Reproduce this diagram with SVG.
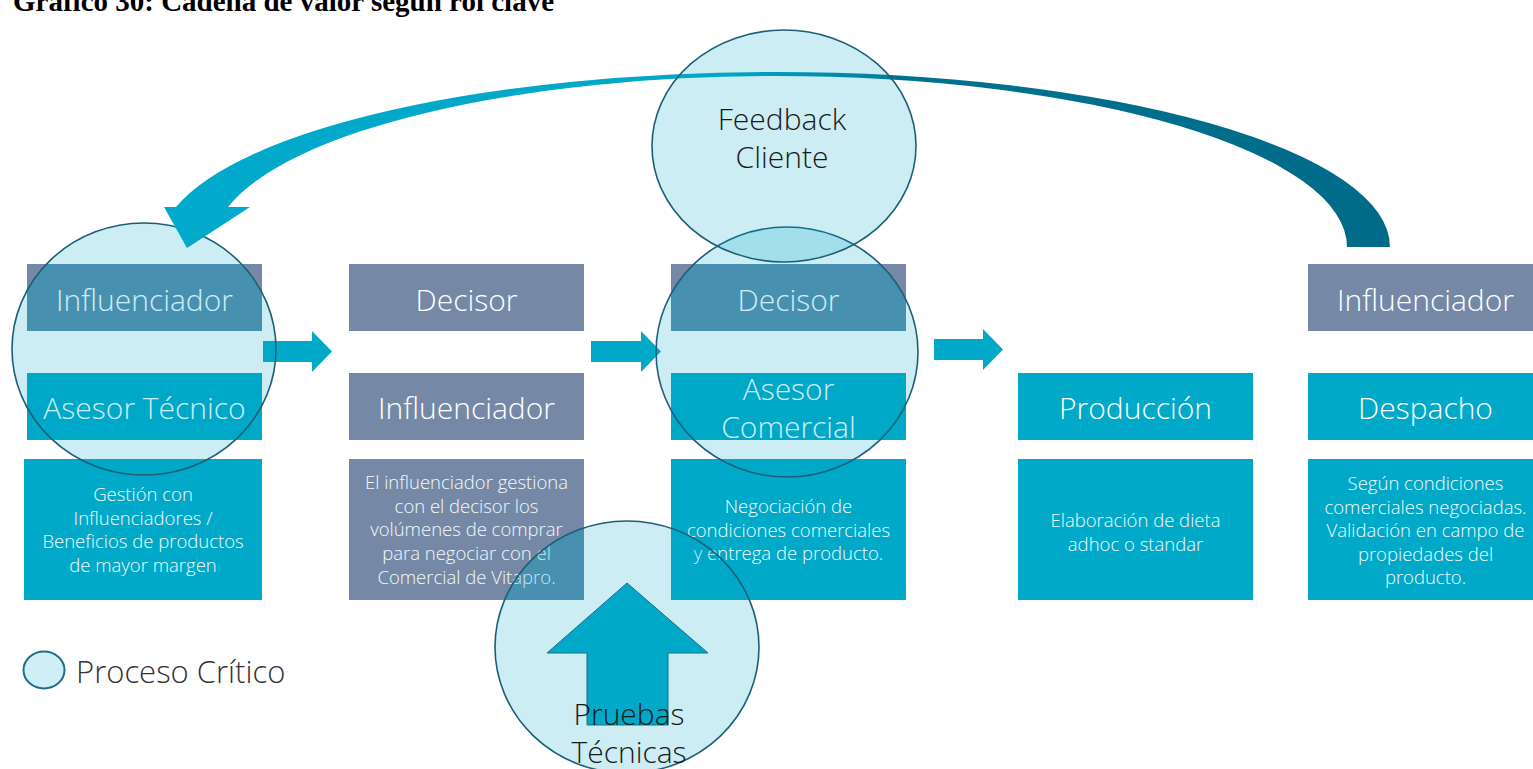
<svg xmlns="http://www.w3.org/2000/svg" width="1533" height="769" viewBox="0 0 1533 769">
  <defs>
    <style>
      .role { fill: #7589A6; }
      .role-in { fill: #5A8BAB; }
      .step { fill: #00A9C8; }
      .ttl { font-family: "Open Sans", "Liberation Sans", sans-serif; font-weight: 300; font-size: 30px; fill: #FFFFFF; text-anchor: middle; }
      .dsc { font-family: "Open Sans", "Liberation Sans", sans-serif; font-weight: 300; font-size: 18.5px; fill: #F2FAFC; text-anchor: middle; }
      .crit { fill: #00A6C6; fill-opacity: 0.2; stroke: #1D5F78; stroke-width: 1.6; }
      .ctxt { font-family: "Open Sans", "Liberation Sans", sans-serif; font-weight: 300; font-size: 30px; fill: #1A1A1A; text-anchor: middle; }
      .flow { fill: #00A9C8; }
    </style>
    <!-- shapes of the critical-process rings, reused to tint the role boxes they cover -->
    <clipPath id="ringTecnico"><ellipse cx="144" cy="349" rx="132" ry="126"/></clipPath>
    <clipPath id="ringComercial"><ellipse cx="787" cy="352" rx="131" ry="125"/></clipPath>
    <clipPath id="ringPruebas"><ellipse cx="627" cy="647" rx="132" ry="126"/></clipPath>
    <linearGradient id="loopGrad" gradientUnits="userSpaceOnUse" x1="160" y1="0" x2="1390" y2="0">
      <stop offset="0" stop-color="#00AACA"/>
      <stop offset="0.46" stop-color="#00A8C8"/>
      <stop offset="0.6" stop-color="#00728F"/>
      <stop offset="1" stop-color="#006B88"/>
    </linearGradient>
  </defs>

  <rect width="1533" height="769" fill="#FFFFFF"/>

  <!-- caption, partly cut by the top edge -->
  <text x="13" y="11" font-family="Liberation Serif, serif" font-weight="bold" font-size="29" fill="#000000">Gráfico 30: Cadena de valor según rol clave</text>

  <!-- column 1 -->
  <g id="col-asesor-tecnico">
    <rect class="role" x="27" y="264" width="235" height="67"/>
    <rect class="role-in" x="27" y="264" width="235" height="67" clip-path="url(#ringTecnico)"/>
    <text class="ttl" x="144.5" y="311">Influenciador</text>
    <rect class="step" x="27" y="373" width="235" height="67"/>
    <text class="ttl" x="144.5" y="419">Asesor Técnico</text>
    <rect class="step" x="24" y="459" width="238" height="141"/>
    <text class="dsc" x="143" y="501">Gestión con</text>
    <text class="dsc" x="143" y="525">Influenciadores /</text>
    <text class="dsc" x="143" y="548">Beneficios de productos</text>
    <text class="dsc" x="143" y="572">de mayor margen</text>
  </g>

  <!-- column 2 -->
  <g id="col-influenciador">
    <rect class="role" x="349" y="264" width="235" height="67"/>
    <text class="ttl" x="466.5" y="311">Decisor</text>
    <rect class="role" x="349" y="373" width="235" height="67"/>
    <text class="ttl" x="466.5" y="419">Influenciador</text>
    <rect class="role" x="349" y="459" width="235" height="141"/>
    <rect class="role-in" x="349" y="459" width="235" height="141" clip-path="url(#ringPruebas)"/>
    <text class="dsc" x="466.5" y="489">El influenciador gestiona</text>
    <text class="dsc" x="466.5" y="513">con el decisor los</text>
    <text class="dsc" x="466.5" y="536">volúmenes de comprar</text>
    <text class="dsc" x="466.5" y="560">para negociar con el</text>
    <text class="dsc" x="466.5" y="584">Comercial de Vitapro.</text>
  </g>

  <!-- column 3 -->
  <g id="col-asesor-comercial">
    <rect class="role" x="671" y="264" width="235" height="67"/>
    <rect class="role-in" x="671" y="264" width="235" height="67" clip-path="url(#ringComercial)"/>
    <text class="ttl" x="788.5" y="311">Decisor</text>
    <rect class="step" x="671" y="373" width="235" height="67"/>
    <text class="ttl" x="788.5" y="400">Asesor</text>
    <text class="ttl" x="788.5" y="438">Comercial</text>
    <rect class="step" x="671" y="459" width="235" height="141"/>
    <text class="dsc" x="788.5" y="513">Negociación de</text>
    <text class="dsc" x="788.5" y="537">condiciones comerciales</text>
    <text class="dsc" x="788.5" y="560">y entrega de producto.</text>
  </g>

  <!-- column 4 -->
  <g id="col-produccion">
    <rect class="step" x="1018" y="373" width="235" height="67"/>
    <text class="ttl" x="1135.5" y="419">Producción</text>
    <rect class="step" x="1018" y="459" width="235" height="141"/>
    <text class="dsc" x="1135.5" y="527">Elaboración de dieta</text>
    <text class="dsc" x="1135.5" y="551">adhoc o standar</text>
  </g>

  <!-- column 5 -->
  <g id="col-despacho">
    <rect class="role" x="1308" y="264" width="235" height="67"/>
    <text class="ttl" x="1425.5" y="311">Influenciador</text>
    <rect class="step" x="1308" y="373" width="235" height="67"/>
    <text class="ttl" x="1425.5" y="419">Despacho</text>
    <rect class="step" x="1308" y="459" width="235" height="141"/>
    <text class="dsc" x="1425.5" y="490">Según condiciones</text>
    <text class="dsc" x="1425.5" y="514">comerciales negociadas.</text>
    <text class="dsc" x="1425.5" y="537">Validación en campo de</text>
    <text class="dsc" x="1425.5" y="561">propiedades del</text>
    <text class="dsc" x="1425.5" y="584">producto.</text>
  </g>

  <!-- flow arrows between columns -->
  <g id="connectors">
    <polygon class="flow" points="263,341 312,341 312,331 332,351.5 312,372 312,362 263,362"/>
    <polygon class="flow" points="591,341 641,341 641,331 661,351.5 641,372 641,362 591,362"/>
    <polygon class="flow" points="934,339 983,339 983,329 1003,349.5 983,370 983,360 934,360"/>
  </g>

  <!-- critical process markers -->
  <g id="critico-asesor-tecnico">
    <ellipse class="crit" cx="144" cy="349" rx="132" ry="126"/>
  </g>
  <g id="critico-asesor-comercial">
    <ellipse class="crit" cx="787" cy="352" rx="131" ry="125"/>
  </g>
  <g id="pruebas-tecnicas">
    <ellipse class="crit" cx="627" cy="647" rx="132" ry="126"/>
    <polygon points="627,583 708,653 668,653 668,725 587,725 587,653 547,653" fill="#00A9C8" stroke="#1D6E88" stroke-width="1"/>
    <text class="ctxt" x="629" y="725">Pruebas</text>
    <text class="ctxt" x="629" y="763">Técnicas</text>
  </g>

  <!-- feedback loop from dispatch back to the technical advisor -->
  <g id="feedback-loop">
    <path d="M 1347 247 L 1390 247 A 615 175 0 0 0 775 72 A 615 175 0 0 0 176 207 L 164 207 L 187 248 L 250 207 L 228 207 A 562.6 171 0 0 1 775 76 A 572 171 0 0 1 1347 247 Z" fill="url(#loopGrad)"/>
  </g>

  <g id="feedback-cliente">
    <ellipse class="crit" cx="784" cy="146" rx="132" ry="116"/>
    <text class="ctxt" x="782" y="130">Feedback</text>
    <text class="ctxt" x="782" y="168">Cliente</text>
  </g>

  <!-- legend -->
  <g id="legend">
    <ellipse cx="44" cy="670" rx="20.5" ry="18.5" fill="#CFEEF5" stroke="#246D87" stroke-width="2"/>
    <text x="76" y="683" font-family="Open Sans, Liberation Sans, sans-serif" font-weight="300" font-size="31" fill="#333333">Proceso Crítico</text>
  </g>
</svg>
